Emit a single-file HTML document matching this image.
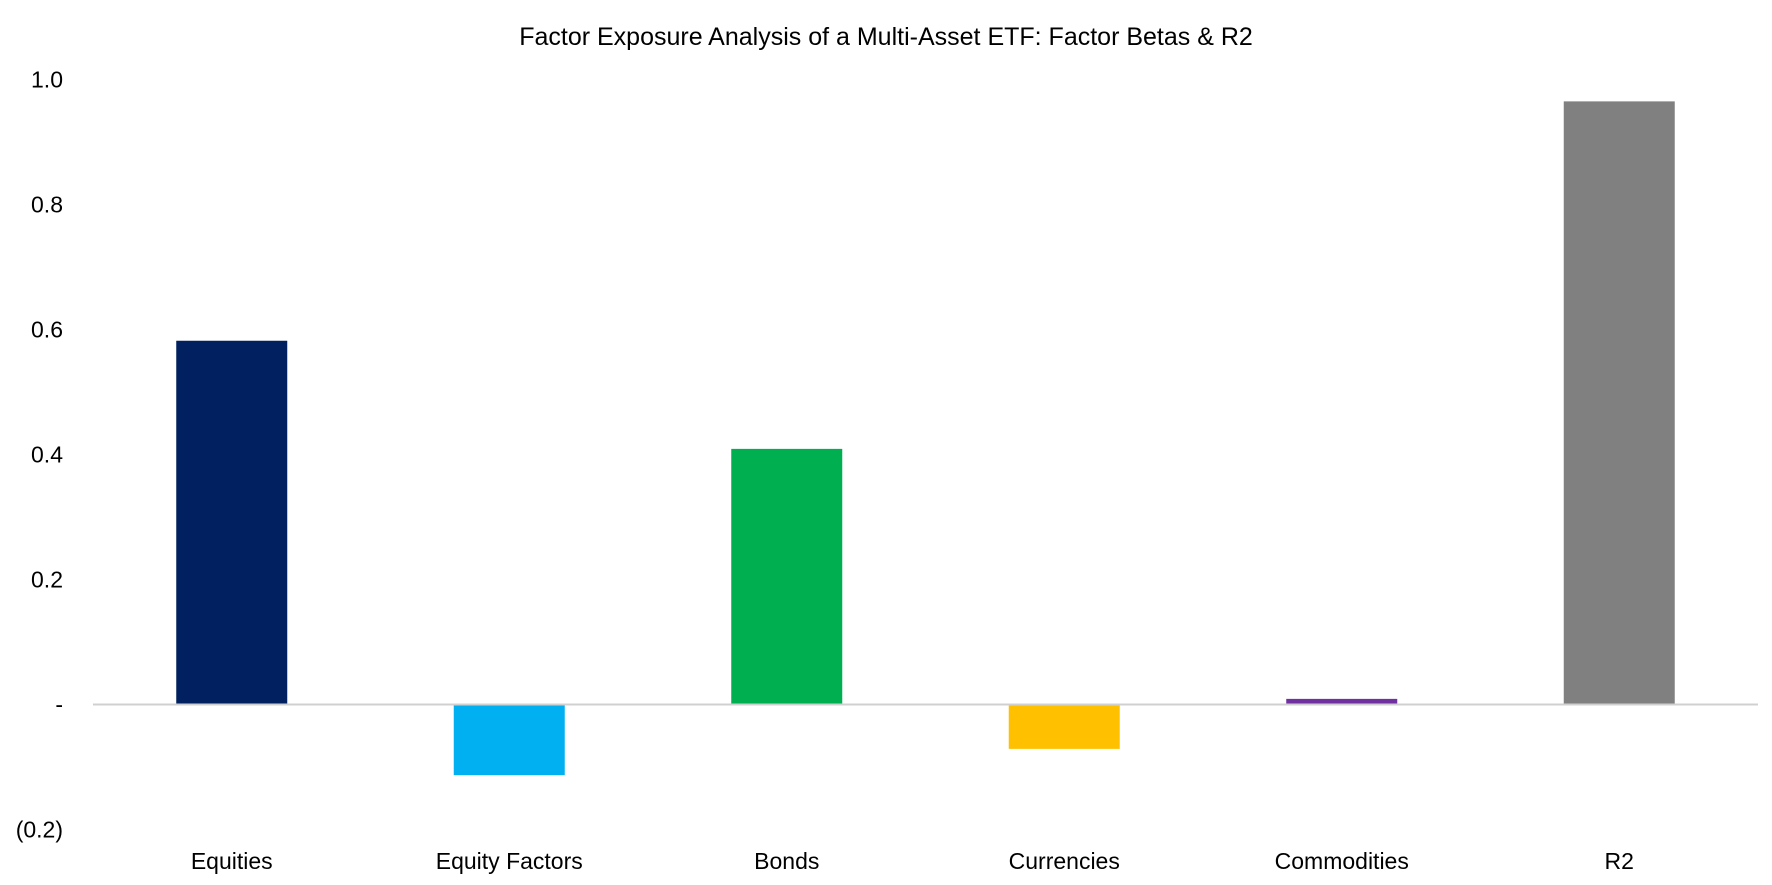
<!DOCTYPE html>
<html><head><meta charset="utf-8"><style>
body{margin:0;background:#fff;}
svg{display:block;font-family:"Liberation Sans",Arial,sans-serif;}
</style></head><body>
<svg id="chart" width="1772" height="885" viewBox="0 0 1772 885" xmlns="http://www.w3.org/2000/svg">
<text x="886" y="45" font-size="25" text-anchor="middle" fill="#000">Factor Exposure Analysis of a Multi-Asset ETF: Factor Betas &amp; R2</text>
<g id="yticks"></g>
<g id="bars"></g>
<line x1="93" x2="1758" y1="704.5" y2="704.5" stroke="#d0d0d0" stroke-width="2"/>
<g id="xlabels"></g>
</svg>
<script>
const categories = ["Equities","Equity Factors","Bonds","Currencies","Commodities","R2"];
const values = [0.582,-0.113,0.409,-0.071,0.009,0.965];
const colors = ["#002060","#00B0F0","#00B050","#FFC000","#7030A0","#808080"];
const tickValues = [1.0,0.8,0.6,0.4,0.2,0,-0.2];
const tickLabels = ["1.0","0.8","0.6","0.4","0.2","-","(0.2)"];

const NS="http://www.w3.org/2000/svg";
const x0=93, x1=1758, yZero=704.5, pxPerUnit=625;
const y = v => yZero - v*pxPerUnit;
const band = (x1-x0)/categories.length;
const xc = i => x0 + band*(i+0.5);
const barW = 111;

const yt=document.getElementById('yticks');
tickValues.forEach((v,i)=>{
  const t=document.createElementNS(NS,'text');
  
  
  t.setAttribute('x',63);t.setAttribute('y',y(v)+8);
  t.setAttribute('font-size','23');t.setAttribute('text-anchor','end');
  t.textContent=tickLabels[i];yt.appendChild(t);
});
const bg=document.getElementById('bars');
values.forEach((v,i)=>{
  const r=document.createElementNS(NS,'rect');
  
  
  r.setAttribute('x',xc(i)-barW/2);r.setAttribute('width',barW);
  r.setAttribute('y',Math.min(y(v),yZero));r.setAttribute('height',Math.abs(y(v)-yZero));
  r.setAttribute('fill',colors[i]);bg.appendChild(r);
});
const xl=document.getElementById('xlabels');
categories.forEach((c,i)=>{
  const t=document.createElementNS(NS,'text');
  
  
  t.setAttribute('x',xc(i));t.setAttribute('y',869);
  t.setAttribute('font-size','23');t.setAttribute('text-anchor','middle');
  t.textContent=c;xl.appendChild(t);
});
</script>
</body></html>
